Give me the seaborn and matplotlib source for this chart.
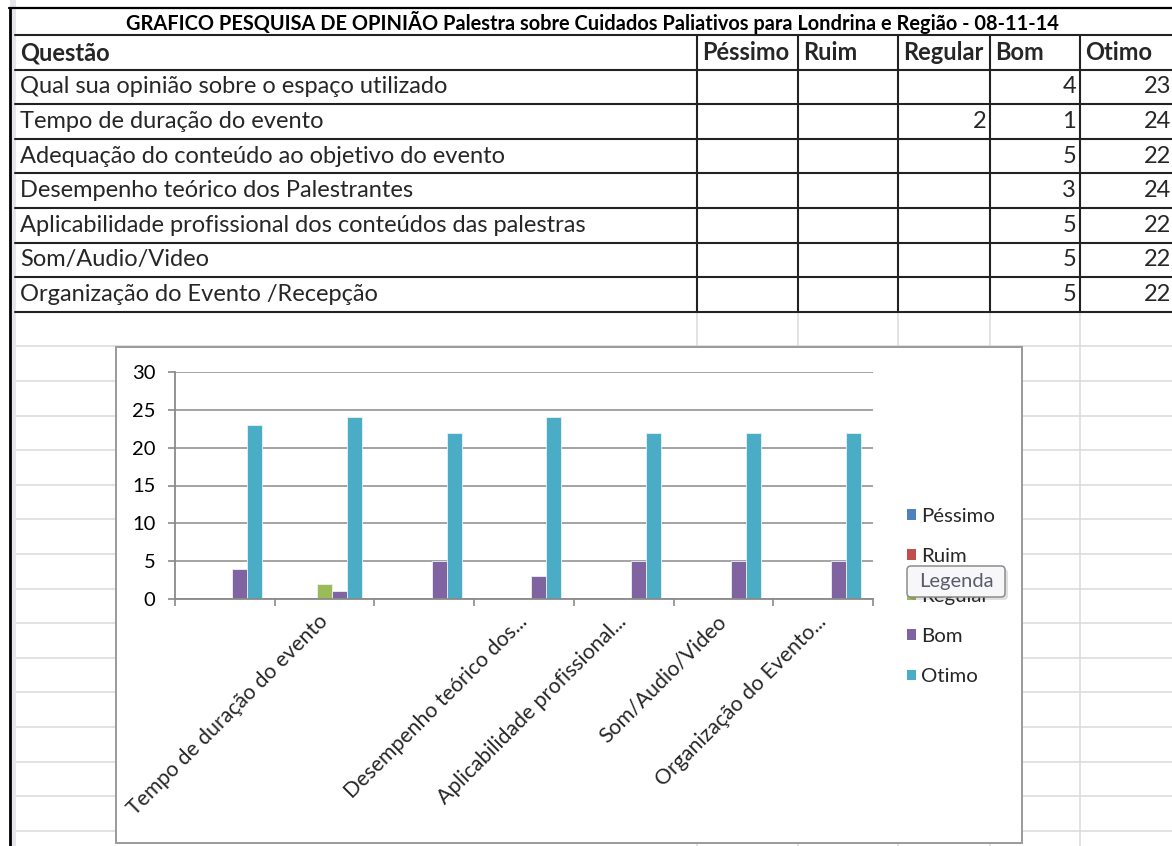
import numpy as np
import pandas as pd
import matplotlib
matplotlib.use("Agg")
import matplotlib.pyplot as plt
from matplotlib.patches import Rectangle, FancyBboxPatch, Patch
import seaborn as sns

# ---------------- data ----------------
title = "GRAFICO PESQUISA DE OPINIÃO Palestra sobre Cuidados Paliativos para Londrina e Região - 08-11-14"
question_header = "Questão"
ratings = ["Péssimo", "Ruim", "Regular", "Bom", "Otimo"]
questions = [
    "Qual sua opinião sobre o espaço utilizado",
    "Tempo de duração do evento",
    "Adequação do conteúdo ao objetivo do evento",
    "Desempenho teórico dos Palestrantes",
    "Aplicabilidade profissional dos conteúdos das palestras",
    "Som/Audio/Video",
    "Organização do Evento /Recepção",
]
nan = np.nan
pessimo = [nan, nan, nan, nan, nan, nan, nan]
ruim = [nan, nan, nan, nan, nan, nan, nan]
regular = [nan, 2, nan, nan, nan, nan, nan]
bom = [4, 1, 5, 3, 5, 5, 5]
otimo = [23, 24, 22, 24, 22, 22, 22]
axis_labels = ["", "Tempo de duração do evento", "", "Desempenho teórico dos...",
               "Aplicabilidade profissional...", "Som/Audio/Video", "Organização do Evento..."]
y_ticks = [0, 5, 10, 15, 20, 25, 30]
legend_title = "Legenda"
palette = ["#4F81BD", "#C0504D", "#9BBB59", "#8064A2", "#4BACC6"]

# ---------------- figure ----------------
sns.set_theme(style="white")
plt.rcParams["font.family"] = ["Lato", "DejaVu Sans"]
W, H = 1172, 846
fig = plt.figure(figsize=(W / 100, H / 100), dpi=100)
fig.patch.set_facecolor("white")

bg = fig.add_axes([0, 0, 1, 1], zorder=0)
bg.set_xlim(0, W)
bg.set_ylim(H, 0)
bg.axis("off")

GRID = "#DADADA"
row_h = 34.6
row_tops = [35 + row_h * i for i in range(24)]
col_x = [697, 798, 898, 990, 1080]

# spreadsheet grid
for y in row_tops[8:]:
    bg.plot([15, W], [y, y], color=GRID, lw=1.1, zorder=1)
for x in col_x:
    bg.plot([x, x], [312, H], color=GRID, lw=1.1, zorder=1)
bg.add_patch(Rectangle((10, 0), 6, H, facecolor="#E4E6EA", edgecolor="none", zorder=1))
bg.plot([9.5, 9.5], [8, H], color="black", lw=2.0, zorder=3)

# table lines
bg.plot([9, W], [8.5, 8.5], color="black", lw=1.6, zorder=3)
for y in row_tops[:9]:
    bg.plot([15, W], [y, y], color="#222222", lw=1.5, zorder=3)
for x in col_x:
    bg.plot([x, x], [35, 312], color="#222222", lw=1.5, zorder=3)

TXT = 17.0
bg.text(592, 22, title, ha="center", va="center", fontsize=14.4, fontweight="bold", color="black", zorder=4)
bg.text(20, 53, question_header, ha="left", va="center", fontsize=TXT, fontweight="bold", zorder=4)
for x, r in zip(col_x, ratings):
    bg.text(x + 5, 53, r, ha="left", va="center", fontsize=TXT, fontweight="bold", zorder=4)

series = [pessimo, ruim, regular, bom, otimo]
right_edges = [798, 898, 990, 1080, 1175]
for i, q in enumerate(questions):
    yc = row_tops[i + 1] + row_h / 2
    bg.text(20, yc, q, ha="left", va="center", fontsize=TXT, zorder=4)
    for s, xr in zip(series, right_edges):
        v = s[i]
        if not (isinstance(v, float) and np.isnan(v)):
            bg.text(xr - 4, yc, f"{v:g}", ha="right", va="center", fontsize=TXT, zorder=4)

# chart frame
bg.add_patch(Rectangle((115.5, 347.5), 1022 - 115.5, 843 - 347.5, facecolor="white",
                       edgecolor="#9A9A9A", lw=1.4, zorder=5))

# ---------------- chart ----------------
df = pd.DataFrame({"Questão": questions, "Péssimo": pessimo, "Ruim": ruim,
                   "Regular": regular, "Bom": bom, "Otimo": otimo})
long = df.melt(id_vars="Questão", var_name="Avaliação", value_name="Respostas")
long["Respostas"] = long["Respostas"].astype(float)
long = long.dropna()

ax = fig.add_axes([175 / W, 1 - 599 / H, (873 - 175) / W, (599 - 372) / H], zorder=2)
ax.patch.set_alpha(0)
sns.barplot(data=long, x="Questão", y="Respostas", hue="Avaliação", order=questions,
            hue_order=ratings, palette=palette, saturation=1, width=0.75, errorbar=None,
            edgecolor="#EAF2F8", linewidth=0.6, legend=False, ax=ax)

ax.set_ylim(0, 30)
ax.set_xlim(-0.5, 6.5)
ax.set_yticks(y_ticks)
ax.set_yticklabels([str(t) for t in y_ticks])
ax.yaxis.grid(True, color="#8A8A8A", lw=1.1)
ax.set_axisbelow(True)
for s in ["top", "right"]:
    ax.spines[s].set_visible(False)
for s in ["left", "bottom"]:
    ax.spines[s].set_color("#8A8A8A")
    ax.spines[s].set_linewidth(1.3)
ax.set_xlabel("")
ax.set_ylabel("")
ax.tick_params(axis="y", length=5, width=1.2, color="#8A8A8A", direction="out",
               labelsize=14.5, pad=9, labelcolor="black", left=True)

ax.set_xticks(np.arange(-0.5, 7, 1))
ax.set_xticklabels([""] * 8)
ax.set_xticks(np.arange(len(questions)), minor=True)
ax.set_xticklabels(axis_labels, minor=True, rotation=45, ha="right", va="center",
                   rotation_mode="anchor", fontsize=15.3)
ax.tick_params(axis="x", which="major", length=5, width=1.2, color="#8A8A8A", direction="out", bottom=True)
ax.tick_params(axis="x", which="minor", length=0, pad=14, bottom=True)

handles = [Patch(facecolor=c, edgecolor="none", label=r) for c, r in zip(palette, ratings)]
ax.legend(handles=handles, loc="upper left", bbox_to_anchor=(907 / W, 1 - 508 / H),
          bbox_transform=fig.transFigure, frameon=False, fontsize=14.7,
          handlelength=0.45, handleheight=0.45, handletextpad=0.25, labelspacing=1.13,
          borderpad=0, borderaxespad=0)

# ---------------- tooltip overlay ----------------
ov = fig.add_axes([0, 0, 1, 1], zorder=10)
ov.set_xlim(0, W)
ov.set_ylim(H, 0)
ov.axis("off")
ov.add_patch(FancyBboxPatch((910, 569), 98, 31, boxstyle="round,pad=0,rounding_size=4",
                            facecolor="#000000", alpha=0.12, edgecolor="none"))
ov.add_patch(FancyBboxPatch((907, 566), 98, 31, boxstyle="round,pad=0,rounding_size=4",
                            facecolor="#F7F7F9", edgecolor="#8C8C8C", lw=1.1))
ov.text(956, 581, legend_title, ha="center", va="center", fontsize=14.5, color="#5B5B6E")

fig.savefig("out.png", dpi=100)
